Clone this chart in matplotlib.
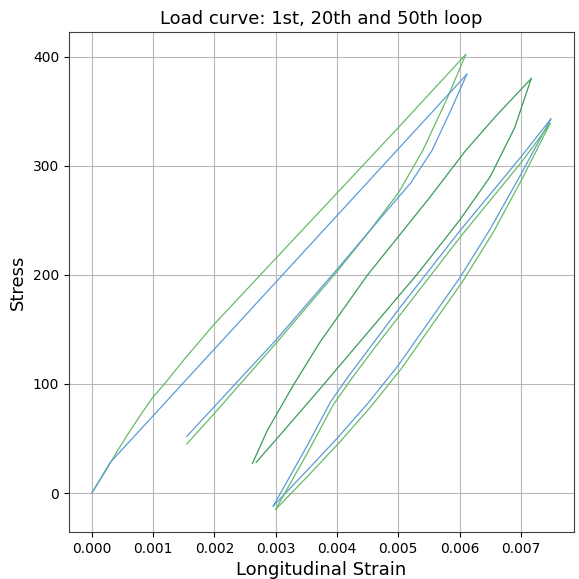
import matplotlib
matplotlib.use('Agg')
import matplotlib.pyplot as plt

# 1st loop (left)
first_load_strain_b = [0.0, 0.0003, 0.00612]
first_load_stress_b = [0, 28, 384]
first_unload_strain_b = [0.00612, 0.00585, 0.00555, 0.0052, 0.0048, 0.004, 0.003, 0.00155]
first_unload_stress_b = [384, 350, 314, 284, 258, 205, 140, 52]

first_load_strain_g = [0.0, 0.0002, 0.0004, 0.0006, 0.0008, 0.001, 0.0012, 0.0015,
                       0.002, 0.003, 0.004, 0.005, 0.0061]
first_load_stress_g = [0, 18, 37, 55, 72, 88, 101, 122, 155, 215, 275, 335, 402]
first_unload_strain_g = [0.0061, 0.0058, 0.0054, 0.005, 0.0045, 0.004, 0.003, 0.002, 0.00155]
first_unload_stress_g = [402, 362, 314, 275, 238, 203, 137, 73, 45]

# middle loop (both series on top of each other)
mid_a_strain = [0.00262, 0.00286, 0.0033, 0.00373, 0.0045, 0.0055, 0.0061, 0.0066, 0.00717]
mid_a_stress = [27, 57, 100, 139, 200, 270, 314, 346, 380]
mid_b_strain = [0.00268, 0.00313, 0.00373, 0.0045, 0.0053, 0.006, 0.0065, 0.0069, 0.00717]
mid_b_stress = [28, 57, 96, 147, 200, 250, 290, 335, 380]

# right loop
right_a_strain_b = [0.00296, 0.0035, 0.0039, 0.0042, 0.0046, 0.005, 0.006, 0.007, 0.00749]
right_a_stress_b = [-12, 42, 84, 108, 138, 168, 240, 308, 343]
right_b_strain_b = [0.00296, 0.0035, 0.004, 0.0045, 0.005, 0.0055, 0.006, 0.0065, 0.007, 0.00749]
right_b_stress_b = [-12, 20, 50, 82, 117, 157, 197, 242, 292, 343]

right_a_strain_g = [0.003, 0.00354, 0.00394, 0.00424, 0.00464, 0.00504, 0.00603, 0.00702, 0.00748]
right_a_stress_g = [-15, 39, 81, 105, 135, 164, 236, 304, 339]
right_b_strain_g = [0.003, 0.00355, 0.00405, 0.00455, 0.00505, 0.00555, 0.00605, 0.00655, 0.00703, 0.00748]
right_b_stress_g = [-15, 17, 47, 79, 114, 154, 194, 239, 289, 339]

blue = '#5b9bd5'
green = '#66bb66'
dgreen = '#3c9a5c'
lw = 0.9

fig = plt.figure(figsize=(5.79, 5.79), dpi=100)
ax = fig.add_axes([0.119, 0.081, 0.872, 0.864])

ax.plot(first_load_strain_g, first_load_stress_g, color=green, lw=lw)
ax.plot(first_unload_strain_g, first_unload_stress_g, color=green, lw=lw)
ax.plot(first_load_strain_b, first_load_stress_b, color=blue, lw=lw)
ax.plot(first_unload_strain_b, first_unload_stress_b, color=blue, lw=lw)

ax.plot(mid_a_strain, mid_a_stress, color=dgreen, lw=lw)
ax.plot(mid_b_strain, mid_b_stress, color=dgreen, lw=lw)

ax.plot(right_a_strain_b, right_a_stress_b, color=blue, lw=lw)
ax.plot(right_b_strain_b, right_b_stress_b, color=blue, lw=lw)
ax.plot(right_a_strain_g, right_a_stress_g, color=green, lw=lw)
ax.plot(right_b_strain_g, right_b_stress_g, color=green, lw=lw)

ax.set_xticks([0.000, 0.001, 0.002, 0.003, 0.004, 0.005, 0.006, 0.007])
ax.set_yticks([0, 100, 200, 300, 400])
ax.tick_params(labelsize=10)
ax.grid(True, color='#b8b8b8', lw=0.8)
ax.set_title('Load curve: 1st, 20th and 50th loop', fontsize=13)
ax.set_xlabel('Longitudinal Strain', fontsize=13)
ax.set_ylabel('Stress', fontsize=13)
for s in ax.spines.values():
    s.set_color('#404040')

fig.savefig('out.png', dpi=100)
